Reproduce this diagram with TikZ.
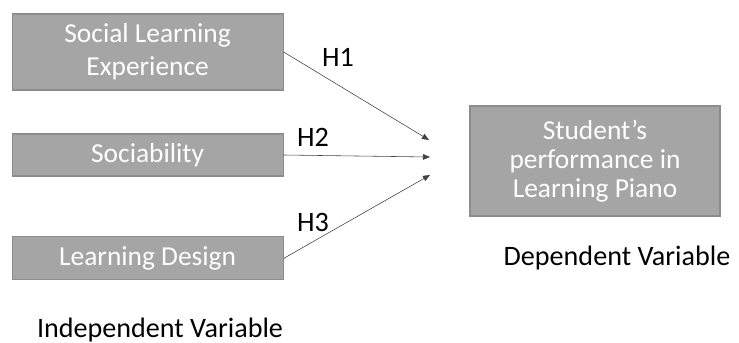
\documentclass[tikz,border=0pt]{standalone}
\usepackage{fontspec}
\setmainfont{Carlito}
\usetikzlibrary{arrows.meta}
\definecolor{boxfill}{HTML}{A5A5A5}
\definecolor{boxline}{HTML}{8C8C8C}
\definecolor{linkgray}{HTML}{404040}
\tikzset{
  varbox/.style={rectangle, draw=boxline, fill=boxfill, line width=0.8pt,
    text=white, align=center, font=\fontsize{19.5}{23.5}\selectfont, inner sep=0pt},
  link/.style={-{Triangle[length=5pt, width=4pt]}, draw=linkgray, line width=0.4pt},
  hyp/.style={font=\fontsize{20}{24}\selectfont},
  caption/.style={font=\fontsize{20}{24}\selectfont}
}
\begin{document}
\begin{tikzpicture}
  \useasboundingbox (0,0) rectangle (18.475,-8.575);
  % Independent variables
  \node[varbox, minimum width=6.775cm, minimum height=1.9cm] (social) at (3.69,-1.3) {Social Learning\\Experience};
  \node[varbox, minimum width=6.775cm, minimum height=1.05cm] (sociab) at (3.69,-3.875) {Sociability};
  \node[varbox, minimum width=6.775cm, minimum height=1.075cm] (design) at (3.69,-6.46) {Learning Design};

  % Dependent variable
  \node[varbox, font=\fontsize{19.5}{20.5}\selectfont, minimum width=6.25cm, minimum height=2.75cm] (perf) at (14.875,-4.025) {Student’s\\performance in\\Learning Piano};

  % Arrow tips
  \coordinate (t1) at (10.725,-3.5);
  \coordinate (t2) at (10.75,-3.925);
  \coordinate (t3) at (10.75,-4.375);

  % Connections
  \draw[link] (social.east) -- (t1);
  \draw[link] (sociab.east) -- (t2);
  \draw[link] (design.east) -- (t3);

  % Hypotheses
  \node[hyp] (h1) at (8.45,-1.425) {H1};
  \node[hyp] (h2) at (7.825,-3.425) {H2};
  \node[hyp] (h3) at (7.825,-5.55) {H3};

  % Captions
  \node[caption] (dep) at (15.425,-6.45) {Dependent Variable};
  \node[caption] (indep) at (4.0,-8.25) {Independent Variable};
\end{tikzpicture}
\end{document}
